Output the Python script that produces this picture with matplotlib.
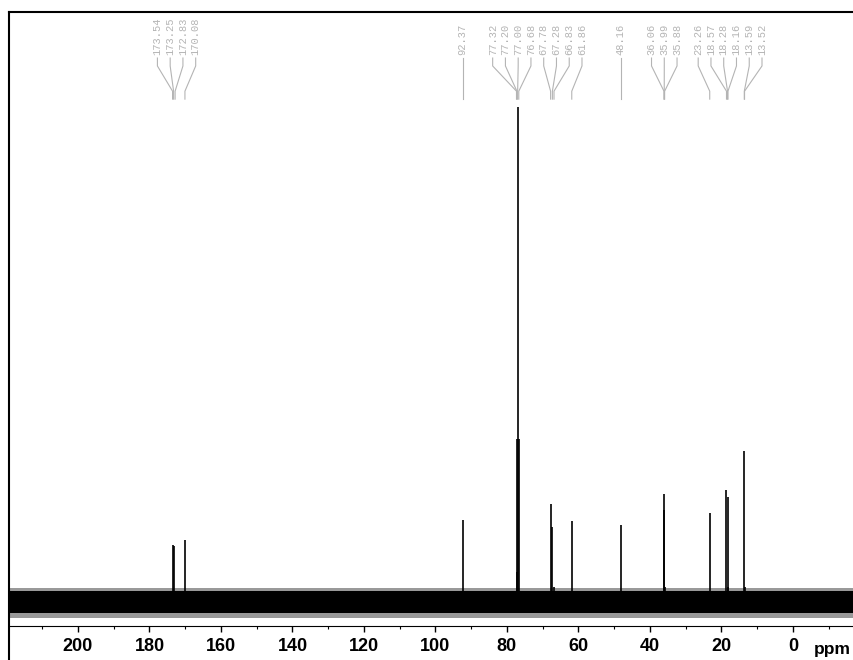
import matplotlib
matplotlib.use("Agg")
import matplotlib.pyplot as plt
import numpy as np

# peak list (ppm) and heights (relative, solvent peak = 100)
peak_ppm = [173.54, 173.25, 172.83, 170.08, 92.37, 77.32, 77.20, 77.00, 76.68,
            67.78, 67.28, 66.83, 61.86, 48.16, 36.06, 35.99, 35.88, 23.26,
            18.57, 18.28, 18.16, 13.59, 13.52]
peak_height = [11.5, 11.3, 2.0, 12.5, 16.6, 33.0, 6.0, 100.0, 33.0,
               19.8, 15.2, 3.0, 16.4, 15.6, 21.8, 18.6, 3.0, 18.0,
               22.6, 21.2, 3.0, 30.5, 3.0]
peak_text = ["173.54", "173.25", "172.83", "170.08", "92.37", "77.32", "77.20",
             "77.00", "76.68", "67.78", "67.28", "66.83", "61.86", "48.16",
             "36.06", "35.99", "35.88", "23.26", "18.57", "18.28", "18.16",
             "13.59", "13.52"]

# baseline noise envelope
noise_ppm = [219.5, -17.5]
noise_core = [(-2.3, 2.3), (-2.3, 2.3)]
noise_outer = [(-3.3, 2.9), (-3.3, 2.9)]

xticks = [200, 180, 160, 140, 120, 100, 80, 60, 40, 20, 0]


def spread_labels(pos, gap):
    # merge overlapping label groups, center each group on its peaks
    groups = [[p] for p in pos]
    changed = True
    while changed:
        changed = False
        out = [groups[0]]
        for g in groups[1:]:
            prev = out[-1]
            c_prev = np.mean(prev)
            c_g = np.mean(g)
            low_prev = c_prev - (len(prev) - 1) / 2 * gap
            high_g = c_g + (len(g) - 1) / 2 * gap
            if high_g + gap > low_prev:
                out[-1] = prev + g
                changed = True
            else:
                out.append(g)
        groups = out
    res = []
    for g in groups:
        c = np.mean(g)
        n = len(g)
        res += [c + ((n - 1) / 2 - i) * gap for i in range(n)]
    return res


fig = plt.figure(figsize=(8.54, 6.6), dpi=100)
ax = fig.add_axes([9 / 854, 0, 1 - 9 / 854, 1 - 12 / 660])

ax.set_xlim(219.3, -17.1)
ax.set_ylim(-11.7, 119.2)

# noise band
ax.fill_between(noise_ppm, [a for a, b in noise_outer], [b for a, b in noise_outer],
                color="#555555", alpha=0.6, lw=0)
ax.fill_between(noise_ppm, [a for a, b in noise_core], [b for a, b in noise_core],
                color="black", lw=0)

# peaks
ax.vlines(peak_ppm, 0, peak_height, color="black", lw=1.2)

# labels
lab_pos = spread_labels(peak_ppm, 3.57)
y_lab, y_k1, y_k2, y_end = 110.5, 108.3, 103.2, 101.6
for p, lp, t in zip(peak_ppm, lab_pos, peak_text):
    ax.text(lp, y_lab, t, rotation=90, ha="center", va="bottom",
            family="Liberation Mono", fontsize=7.5, color="#b4b4b4")
    ax.plot([lp, lp, p, p], [y_lab - 0.6, y_k1, y_k2, y_end],
            color="#b4b4b4", lw=0.8)

# axes styling
ax.spines["right"].set_visible(False)
ax.spines["top"].set_linewidth(1.5)
ax.spines["left"].set_linewidth(1.5)
ax.spines["bottom"].set_position(("data", -4.85))
ax.spines["bottom"].set_linewidth(0.8)
ax.set_yticks([])
ax.set_xticks(xticks)
ax.set_xticks(np.arange(210, -20, -10), minor=True)
ax.tick_params(axis="x", which="major", length=4.5, width=1.0, pad=4.0)
ax.tick_params(axis="x", which="minor", length=2, width=0.8)
for lbl in ax.get_xticklabels():
    lbl.set_fontweight("bold")
    lbl.set_fontsize(13)
    lbl.set_family("Liberation Sans")

ax.text(-16.2, -9.6, "ppm", ha="right", va="center", fontsize=12.5,
        fontweight="bold", family="Liberation Sans")

fig.savefig("out.png", dpi=100)
